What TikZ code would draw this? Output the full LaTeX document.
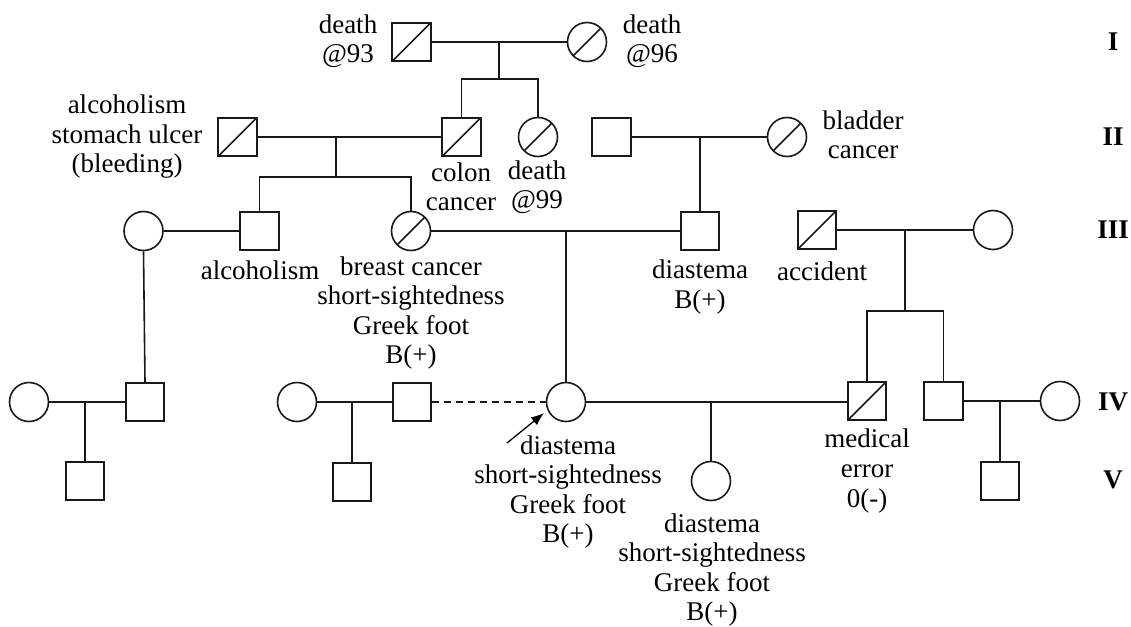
\documentclass[tikz,border=0pt]{standalone}
\usepackage{fontspec}
\setmainfont{Liberation Serif}
\usetikzlibrary{calc,arrows.meta}
\begin{document}
\begin{tikzpicture}[x=1pt,y=-1pt,
  lw/.style={line width=1.6pt,draw=black!90},
  male/.style={lw,rectangle,minimum size=38.5pt,inner sep=0pt},
  female/.style={lw,circle,minimum size=39pt,inner sep=0pt},
  dec/.style={path picture={\draw[lw] (path picture bounding box.south west) -- (path picture bounding box.north east);}},
  lbl/.style={align=center,inner sep=0pt,font=\fontsize{27}{29.5}\selectfont},
  gen/.style={inner sep=0pt,font=\fontsize{27}{30}\selectfont\bfseries},
  conn/.style={lw},
]
\path[use as bounding box] (0,0) rectangle (1131,626);

% Generation I
\node[male,dec] (m1) at (411.5,42) {};
\node[female,dec] (f1) at (587,42) {};
% Generation II
\node[male,dec] (m2a) at (237.5,137) {};
\node[male,dec] (m2b) at (461.5,137) {};
\node[female,dec] (f2b) at (538,137) {};
\node[male] (m2c) at (611.5,137) {};
\node[female,dec] (f2c) at (787,137) {};
% Generation III
\node[female] (f3a) at (143.5,231) {};
\node[male] (m3a) at (259.5,231) {};
\node[female,dec] (f3b) at (411,231) {};
\node[male] (m3c) at (700,231) {};
\node[male,dec] (m3d) at (817,230) {};
\node[female] (f3d) at (993,230) {};
% Generation IV
\node[female] (f4a) at (29,402) {};
\node[male] (m4a) at (145,402) {};
\node[female] (f4b) at (297,402) {};
\node[male] (m4b) at (412,402) {};
\node[female] (f4c) at (566,402) {};
\node[male,dec] (m4c) at (867,401) {};
\node[male] (m4d) at (943.5,401) {};
\node[female] (f4d) at (1060,401) {};
% Generation V
\node[male] (m5a) at (85,481) {};
\node[male] (m5b) at (352,482) {};
\node[female] (f5c) at (711,481) {};
\node[male] (m5d) at (1000,481) {};

% Labels
\node[lbl] (t1) at (348,41) {death\\@93};
\node[lbl] (t2) at (652,41) {death\\@96};
\node[lbl] (t3) at (127,137) {alcoholism\\stomach ulcer\\(bleeding)};
\node[lbl] (t4) at (461,187) {colon\\cancer};
\node[lbl] (t5) at (537,187) {death\\@99};
\node[lbl] (t6) at (863,135) {bladder\\cancer};
\node[lbl] (t7) at (260,270) {alcoholism};
\node[lbl] (t8) at (411,313) {breast cancer\\short-sightedness\\Greek foot\\B(+)};
\node[lbl] (t9) at (700,287) {diastema\\B(+)};
\node[lbl] (t10) at (822,271) {accident};
\node[lbl] (t11) at (867,471) {medical\\error\\0(-)};
\node[lbl] (t12) at (568,492) {diastema\\short-sightedness\\Greek foot\\B(+)};
\node[lbl] (t13) at (712,570) {diastema\\short-sightedness\\Greek foot\\B(+)};

% Generation numerals
\node[gen] (g1) at (1113,42) {I};
\node[gen] (g2) at (1113,137) {II};
\node[gen] (g3) at (1113,230) {III};
\node[gen] (g4) at (1113,402) {IV};
\node[gen] (g5) at (1113,480) {V};

% Connectors
% I
\draw[conn] (m1.east) -- (f1.west);
\coordinate (c1) at ($(m1.east)!0.5!(f1.west)$);
\coordinate (s1) at ($(c1)+(0,37)$);
\draw[conn] (c1) -- (s1);
\draw[conn] (m2b.north) |- (s1) -| (f2b.north);
% II left couple
\draw[conn] (m2a.east) -- (m2b.west);
\coordinate (c2) at (336,137);
\coordinate (s2) at (336,177);
\draw[conn] (c2) -- (s2);
\draw[conn] (m3a.north) |- (s2) -| (f3b.north);
% II right couple
\draw[conn] (m2c.east) -- (f2c.west);
\draw[conn] (m3c.north) -- (m3c.north |- m2c.east);
% III
\draw[conn] (f3a.east) -- (m3a.west);
\draw[conn] (f3a.south) -- (m4a.north);
\draw[conn] (f3b.east) -- (m3c.west);
\draw[conn] (f4c.north) -- (f4c.north |- f3b.east);
\draw[conn] (m3d.east) -- (f3d.west);
\coordinate (c3) at (905,230);
\coordinate (s3) at (905,311);
\draw[conn] (c3) -- (s3);
\draw[conn] (m4c.north) |- (s3) -| (m4d.north);
% IV
\draw[conn] (f4a.east) -- (m4a.west);
\draw[conn] (m5a.north) -- (m5a.north |- f4a.east);
\draw[conn] (f4b.east) -- (m4b.west);
\draw[conn] (m5b.north) -- (m5b.north |- f4b.east);
\draw[conn,dash pattern=on 7pt off 5pt] (m4b.east) -- (f4c.west);
\draw[conn] (f4c.east) -- (f4c.east -| m4c.west);
\draw[conn] (f5c.north) -- (f5c.north |- f4c.east);
\draw[conn] (m4d.east) -- (f4d.west);
\draw[conn] (m5d.north) -- (m5d.north |- m4d.east);
% proband arrow
\coordinate (ptail) at (507,443);
\coordinate (ptip) at (544,413);
\draw[line width=1.3pt,-{Latex[length=13pt,width=10pt]}] (ptail) -- (ptip);
\end{tikzpicture}
\end{document}
